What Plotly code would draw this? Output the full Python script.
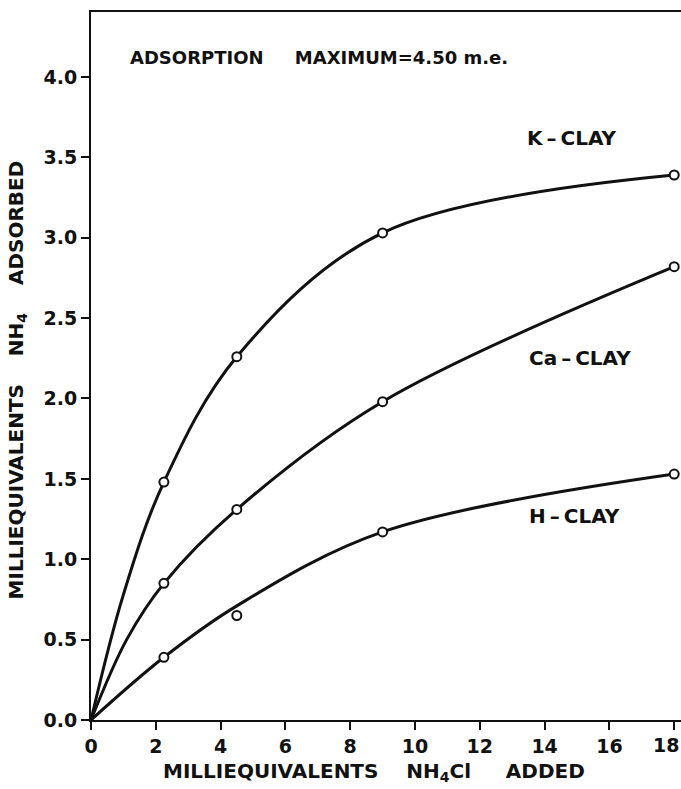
import plotly.graph_objects as go

# NH4Cl added (m.e.) at which adsorption was measured
added = [2.25, 4.5, 9.0, 18.0]

# NH4 adsorbed (m.e.) measured for each clay
k_clay = [1.48, 2.26, 3.03, 3.39]
ca_clay = [0.85, 1.31, 1.98, 2.82]
h_clay = [0.39, 0.65, 1.17, 1.53]

# smooth hand-drawn curves through the data, starting at the origin
k_curve_x = [0.0, 1.0, 2.25, 4.5, 9.0, 18.0]
k_curve_y = [0.0, 0.78, 1.48, 2.26, 3.03, 3.39]
ca_curve_x = [0.0, 1.1, 2.25, 4.5, 9.0, 18.0]
ca_curve_y = [0.0, 0.50, 0.85, 1.31, 1.98, 2.82]
h_curve_x = [0.0, 2.25, 4.5, 9.0, 18.0]
h_curve_y = [0.0, 0.39, 0.71, 1.17, 1.53]

x_ticks = [0, 2, 4, 6, 8, 10, 12, 14, 16, 18]
x_tick_text = ["0", "2", "4", "6", "8", "10", "12", "14", "16", "18"]
y_ticks = [0.0, 0.5, 1.0, 1.5, 2.0, 2.5, 3.0, 3.5, 4.0]
y_tick_text = ["0.0", "0.5", "1.0", "1.5", "2.0", "2.5", "3.0", "3.5", "4.0"]

FONT = "DejaVu Sans"
INK = "#111111"
TICK_FONT = dict(family=FONT, size=19, color=INK, weight="bold")

fig = go.Figure()

for cx, cy in ((k_curve_x, k_curve_y), (ca_curve_x, ca_curve_y),
               (h_curve_x, h_curve_y)):
    fig.add_trace(go.Scatter(
        x=cx, y=cy, mode="lines",
        line=dict(color=INK, width=3, shape="spline", smoothing=1.0),
        hoverinfo="skip", showlegend=False,
    ))

for sy in (k_clay, ca_clay, h_clay):
    fig.add_trace(go.Scatter(
        x=added, y=sy, mode="markers",
        marker=dict(symbol="circle", size=9, color="white",
                    line=dict(color=INK, width=2)),
        showlegend=False,
    ))

labels = [
    (1.14, 4.12, 18, "ADSORPTION&nbsp;&nbsp;&nbsp;&nbsp;&nbsp;MAXIMUM=4.50 m.e."),
    (13.4, 3.62, 20, "K\u2009–\u2009CLAY"),
    (13.45, 2.25, 20, "Ca\u2009–\u2009CLAY"),
    (13.45, 1.266, 20, "H\u2009–\u2009CLAY"),
]
for x, y, s, t in labels:
    fig.add_annotation(x=x, y=y, text=t, showarrow=False, xanchor="left",
                       yanchor="middle",
                       font=dict(family=FONT, size=s, color=INK, weight="bold"))

# the last x tick label sits flush against the right edge of the figure
fig.add_annotation(
    xref="paper", yref="paper", x=1.0, y=0, yshift=-12,
    text=x_tick_text[-1], showarrow=False, xanchor="right", yanchor="top",
    font=TICK_FONT,
)

# vertical axis title
fig.add_annotation(
    xref="paper", yref="paper", x=-0.125, y=0.48, textangle=-90,
    text="MILLIEQUIVALENTS&nbsp;&nbsp;&nbsp;&nbsp;NH<sub>4</sub>&nbsp;&nbsp;&nbsp;&nbsp;ADSORBED",
    showarrow=False, xanchor="center", yanchor="middle",
    font=dict(family=FONT, size=20, color=INK, weight="bold"),
)
# horizontal axis title
fig.add_annotation(
    xref="paper", yref="paper", x=0.48, y=-0.073,
    text="MILLIEQUIVALENTS&nbsp;&nbsp;&nbsp;&nbsp;NH<sub>4</sub>Cl&nbsp;&nbsp;&nbsp;&nbsp;&nbsp;ADDED",
    showarrow=False, xanchor="center", yanchor="middle",
    font=dict(family=FONT, size=20, color=INK, weight="bold"),
)

fig.update_layout(
    width=681, height=789,
    margin=dict(l=91, r=0, t=12, b=69, autoexpand=False),
    paper_bgcolor="white", plot_bgcolor="white",
    xaxis=dict(
        range=[0, 18.21], tickvals=x_ticks,
        ticktext=x_tick_text[:-1] + [""],
        showgrid=False, zeroline=False, showline=True, linecolor=INK,
        linewidth=2, mirror=True, ticks="outside", ticklen=8, tickwidth=2,
        tickcolor=INK, automargin=False, tickfont=TICK_FONT,
    ),
    yaxis=dict(
        range=[0, 4.404], tickvals=y_ticks, ticktext=y_tick_text,
        showgrid=False, zeroline=False, showline=True, linecolor=INK,
        linewidth=2, ticks="outside", ticklen=8, tickwidth=2, tickcolor=INK,
        automargin=False, tickfont=TICK_FONT,
    ),
)

fig.write_html("out.html")
